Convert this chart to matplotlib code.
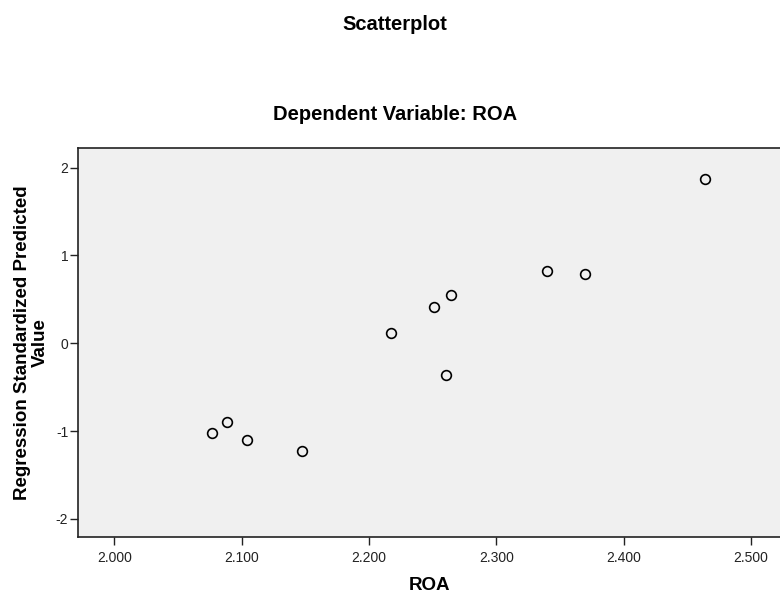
import matplotlib
matplotlib.use('Agg')
import matplotlib.pyplot as plt

plt.rcParams['font.family'] = ['Liberation Sans', 'DejaVu Sans']
plt.rcParams['axes.unicode_minus'] = False

# ROA vs standardized predicted value
roa = [2.0765, 2.0883, 2.1042, 2.1475, 2.2174, 2.2514, 2.2645, 2.2608, 2.3397, 2.3698, 2.4638]
pred = [-1.018, -0.896, -1.098, -1.223, 0.121, 0.413, 0.553, -0.362, 0.827, 0.793, 1.868]

x_ticks = [2.0, 2.1, 2.2, 2.3, 2.4, 2.5]
x_labels = ['2.000', '2.100', '2.200', '2.300', '2.400', '2.500']
y_ticks = [-2, -1, 0, 1, 2]
y_labels = ['-2', '-1', '0', '1', '2']

fig = plt.figure(figsize=(7.8, 5.94), dpi=100)
ax = fig.add_axes([0.1, 0.096, 0.9, 0.655])
ax.set_facecolor('#f0f0f0')

ax.plot(roa, pred, linestyle='none', marker='o', markersize=7,
        markerfacecolor='none', markeredgecolor='black', markeredgewidth=1.2)

ax.set_xlim(1.9715, 2.5228)
ax.set_ylim(-2.205, 2.224)
ax.set_xticks(x_ticks)
ax.set_xticklabels(x_labels)
ax.set_yticks(y_ticks)
ax.set_yticklabels(y_labels)
ax.tick_params(direction='out', length=6, width=1, labelsize=10, colors='#222222')
ax.tick_params(axis='x', pad=4)
ax.tick_params(axis='y', pad=1)

for s in ['left', 'bottom', 'top']:
    ax.spines[s].set_linewidth(1.2)
    ax.spines[s].set_color('#222222')
ax.spines['right'].set_visible(False)

ax.set_xlabel('ROA', fontsize=13.5, fontweight='bold', labelpad=9)
ax.set_ylabel('Regression Standardized Predicted\nValue', fontsize=13.5,
              fontweight='bold', labelpad=5, linespacing=1.1)

fig.text(0.506, 1 - 24 / 594, 'Scatterplot', ha='center', va='center',
         fontsize=14.5, fontweight='bold')
fig.text(0.506, 1 - 115 / 594, 'Dependent Variable: ROA', ha='center', va='center',
         fontsize=14.5, fontweight='bold')

fig.savefig('out.png', dpi=100)
